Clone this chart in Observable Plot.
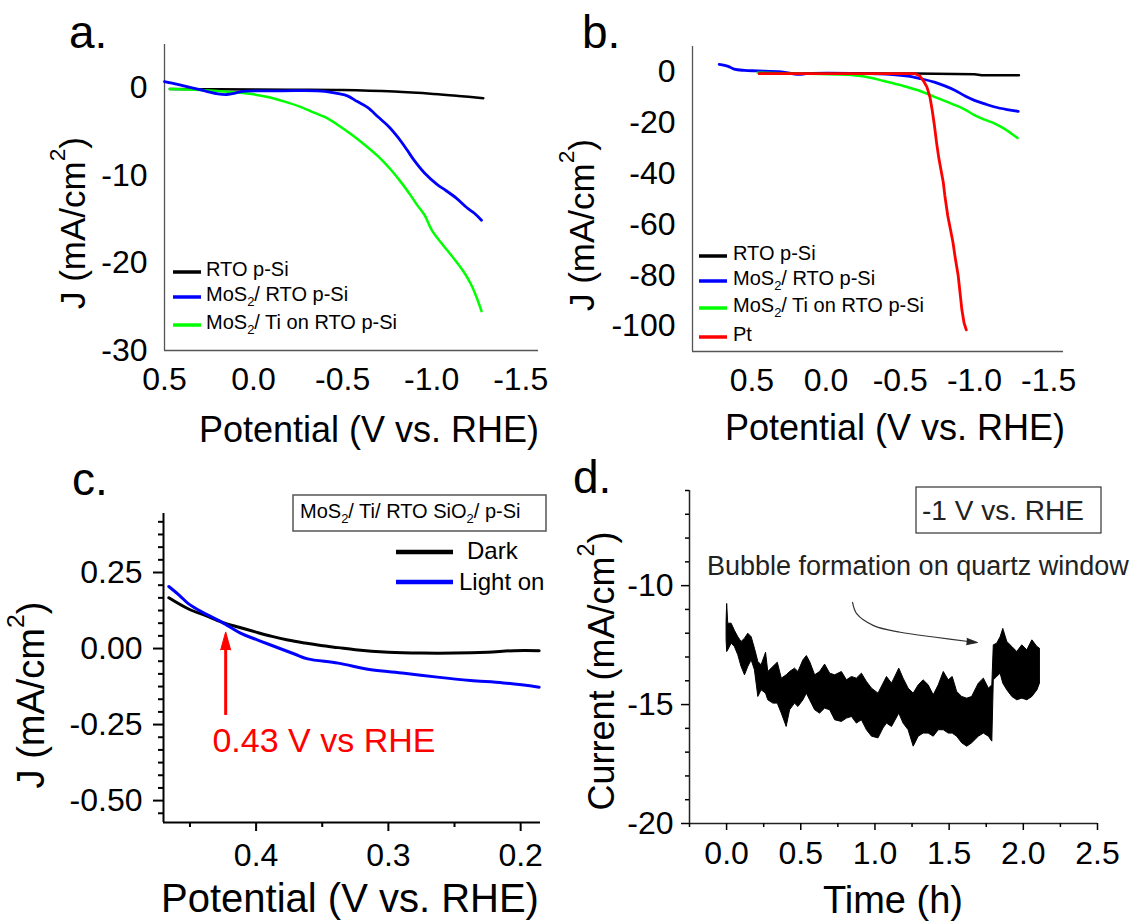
<!DOCTYPE html>
<html><head><meta charset="utf-8">
<script src="https://cdn.jsdelivr.net/npm/d3@7"></script>
<script src="https://cdn.jsdelivr.net/npm/@observablehq/plot@0.6"></script>
<style>
html,body{margin:0;padding:0;background:#fff;}
#fig{position:relative;width:1133px;height:921px;overflow:hidden;background:#fff;}
</style></head><body><div id="fig"></div>
<script>
// ---------------- DATA ----------------
// Panel a: [potential V vs RHE, J mA/cm2]
const aNames = ["RTO p-Si", "MoS_2/ RTO p-Si", "MoS_2/ Ti on RTO p-Si"];
const aColors = ["#000000", "#0000FF", "#00FF00"];
const aRTO = [[0.47,-0.1],[0.2,-0.13],[-0.2,-0.17],[-0.5,-0.2],[-0.79,-0.38],[-1.01,-0.65],[-1.15,-0.88],[-1.29,-1.14]];
const aMoS2 = [[0.5,0.76],[0.44,0.5],[0.38,0.2],[0.32,-0.07],[0.26,-0.38],[0.20,-0.65],[0.15,-0.72],[0.11,-0.6],[0.07,-0.38],[-0.1,-0.3],[-0.26,-0.27],[-0.4,-0.35],[-0.47,-0.6],[-0.53,-0.9],[-0.58,-1.5],[-0.64,-2.2],[-0.70,-3.3],[-0.76,-4.4],[-0.81,-5.6],[-0.86,-7.0],[-0.90,-8.2],[-0.96,-9.7],[-1.03,-11.0],[-1.08,-11.7],[-1.14,-12.6],[-1.20,-13.7],[-1.24,-14.3],[-1.28,-15.1]];
const aTi = [[0.47,-0.1],[0.3,-0.2],[0.11,-0.46],[0.0,-0.7],[-0.08,-1.0],[-0.17,-1.5],[-0.26,-2.1],[-0.34,-2.8],[-0.42,-3.5],[-0.48,-4.3],[-0.55,-5.3],[-0.62,-6.4],[-0.70,-7.8],[-0.77,-9.3],[-0.83,-10.8],[-0.88,-12.2],[-0.92,-13.4],[-0.96,-14.5],[-1.0,-16.2],[-1.05,-17.6],[-1.11,-19.1],[-1.18,-21.0],[-1.22,-22.4],[-1.25,-23.8],[-1.28,-25.5]];
const aTicksX = [0.5, 0.0, -0.5, -1.0, -1.5];
const aTicksY = [0, -10, -20, -30];

// Panel b
const bNames = ["RTO p-Si", "MoS_2/ RTO p-Si", "MoS_2/ Ti on RTO p-Si", "Pt"];
const bColors = ["#000000", "#0000FF", "#00FF00", "#FF0000"];
const bRTO = [[0.45,-0.7],[0.0,-0.7],[-0.6,-0.6],[-1.0,-0.9],[-1.05,-1.3],[-1.3,-1.3]];
const bMoS2 = [[0.72,3.0],[0.66,2.2],[0.62,1.1],[0.55,0.6],[0.46,0.4],[0.3,0.0],[0.19,-1.0],[0.12,-0.6],[-0.22,-0.6],[-0.45,-1.1],[-0.55,-1.7],[-0.63,-2.6],[-0.73,-4.0],[-0.80,-5.5],[-0.867,-7.2],[-0.94,-9.6],[-1.0,-11.2],[-1.07,-12.6],[-1.137,-13.8],[-1.22,-14.8],[-1.295,-15.5]];
const bTi = [[0.46,-0.3],[0.2,-0.6],[-0.1,-1.0],[-0.22,-1.5],[-0.3,-2.3],[-0.39,-3.6],[-0.5,-5.2],[-0.62,-7.2],[-0.73,-9.8],[-0.845,-12.5],[-0.93,-14.6],[-1.0,-17.0],[-1.07,-18.8],[-1.14,-20.4],[-1.2,-22.3],[-1.25,-24.3],[-1.29,-26.0]];
const bPt = [[0.45,-0.7],[-0.6,-0.7],[-0.63,-1.5],[-0.654,-3.3],[-0.68,-6],[-0.70,-9.9],[-0.715,-15],[-0.73,-21],[-0.745,-28],[-0.76,-34],[-0.79,-43.5],[-0.80,-48.5],[-0.82,-56.6],[-0.835,-61],[-0.855,-67],[-0.87,-73],[-0.89,-80],[-0.905,-88],[-0.915,-93.5],[-0.93,-98.8],[-0.945,-101.5]];
const bTicksX = [0.5, 0.0, -0.5, -1.0, -1.5];
const bTicksY = [0, -20, -40, -60, -80, -100];

// Panel c
const cNames = ["Dark", "Light on"];
const cColors = ["#000000", "#0000FF"];
const cDark = [[0.466,0.167],[0.451,0.13],[0.438,0.108],[0.426,0.087],[0.413,0.07],[0.40,0.054],[0.388,0.04],[0.376,0.028],[0.363,0.018],[0.351,0.01],[0.338,0.003],[0.325,-0.004],[0.30,-0.012],[0.275,-0.015],[0.25,-0.015],[0.225,-0.012],[0.205,-0.007],[0.186,-0.007]];
const cLight = [[0.466,0.204],[0.458,0.175],[0.451,0.147],[0.44,0.118],[0.426,0.087],[0.411,0.049],[0.40,0.03],[0.388,0.01],[0.371,-0.018],[0.361,-0.034],[0.338,-0.048],[0.313,-0.07],[0.288,-0.081],[0.263,-0.094],[0.238,-0.105],[0.213,-0.113],[0.186,-0.127]];
const cTicksX = [0.4, 0.3, 0.2];
const cMinorX = [0.45, 0.35, 0.25];
const cTicksY = [0.25, 0.0, -0.25, -0.5];
const cArrow = [{x: 0.423, from: -0.22, base: 0.025}];
const cNote = [{x: 0.433, y: -0.341, text: "0.43 V vs RHE"}];

// Panel d: chronoamperometry trace envelope (time h; upper and lower current mA/cm2)
const dTime = [0,0.004,0.011,0.034,0.056,0.079,0.101,0.124,0.146,0.169,0.191,0.214,0.236,0.266,0.281,0.315,0.345,0.372,0.405,0.428,0.461,0.484,0.518,0.541,0.563,0.597,0.63,0.664,0.698,0.732,0.777,0.811,0.845,0.878,0.912,0.946,0.98,1.024,1.058,1.081,1.115,1.164,1.193,1.227,1.261,1.295,1.328,1.362,1.396,1.43,1.464,1.497,1.524,1.554,1.588,1.622,1.655,1.7,1.734,1.768,1.791,1.801,1.824,1.847,1.865,1.892,1.926,1.959,1.993,2.027,2.061,2.095,2.112];
const dHi = [-11.5,-10.77,-11.6,-11.6,-11.9,-12.17,-12.37,-12.23,-12.02,-12.17,-12.65,-13.21,-13.35,-12.82,-13.63,-13.42,-13.24,-13.91,-13.77,-13.63,-13.49,-13.63,-13.14,-12.96,-13.21,-13.77,-13.63,-13.32,-13.7,-13.77,-13.63,-13.98,-13.84,-13.91,-13.7,-14.05,-14.33,-14.54,-14.12,-13.84,-14.12,-13.49,-13.91,-14.33,-14.54,-14.19,-13.98,-14.19,-14.61,-14.19,-13.63,-13.98,-13.84,-14.47,-14.68,-14.75,-14.68,-14.12,-13.91,-14.33,-14.19,-12.51,-12.44,-12.17,-11.82,-12.37,-12.58,-12.79,-12.51,-12.72,-12.3,-12.58,-12.65];
const dLo = [-12.3,-12.79,-12.72,-12.44,-12.58,-12.93,-13.42,-13.77,-13.42,-13.14,-13.56,-14.68,-14.4,-14.54,-14.82,-14.96,-14.96,-15.38,-15.94,-15.24,-14.96,-15.1,-14.82,-14.54,-14.82,-15.24,-15.38,-15.17,-15.24,-15.66,-15.73,-15.59,-15.52,-15.8,-15.66,-16.08,-16.35,-16.42,-16.0,-15.8,-15.94,-15.38,-15.8,-16.08,-16.77,-16.35,-16.22,-16.22,-16.35,-16.08,-16.08,-16.22,-16.22,-16.35,-16.63,-16.77,-16.63,-16.35,-16.22,-16.35,-16.56,-13.98,-13.84,-13.7,-14.12,-14.4,-14.68,-14.82,-14.75,-14.82,-14.68,-14.4,-14.12];
const dTicksX = [0, 0.5, 1.0, 1.5, 2.0, 2.5];
const dMinorX = [-0.25, 0.25, 0.75, 1.25, 1.75, 2.25];
const dTicksY = [-20, -15, -10];
const dMinorY = [-19,-18,-17,-16,-14,-13,-12,-11,-9,-8,-7,-6];
// annotation arrow path (time h, current) and its head
const dArrowT = [0.849, 0.878, 0.991, 1.171, 1.396, 1.655];
const dArrowI = [-10.70, -11.19, -11.68, -11.96, -12.16, -12.37];
const dArrowHead = [{t: 1.655, i: -12.37}];

// ---------------- HELPERS ----------------
const FONT = "'Liberation Sans', Arial, Helvetica, sans-serif";
const fig = document.getElementById("fig");
function place(svg, left, top) {
  svg.style.position = "absolute";
  svg.style.left = left + "px";
  svg.style.top = top + "px";
  svg.style.overflow = "visible";
  svg.style.background = "transparent";
  fig.appendChild(svg);
  return d3.select(svg);
}
function addText(sel, o) {
  const t = sel.append("text").attr("x", o.x).attr("y", o.y)
    .attr("font-size", o.size).attr("fill", o.fill || "#000")
    .attr("font-family", FONT)
    .attr("text-anchor", o.anchor || "start");
  if (o.rotate) t.attr("transform", `rotate(${o.rotate},${o.x},${o.y})`);
  if (o.central) t.attr("dominant-baseline", "central");
  let off = 0;
  for (const p of o.text.split(/([_^]\d)/)) {
    if (!p) continue;
    const script = p[0] === "_" || p[0] === "^";
    const target = script ? (p[0] === "_" ? 0.25 : -0.42) * o.size : 0;
    const ts = t.append("tspan").attr("dy", target - off);
    if (script) ts.attr("font-size", o.size * 0.65).text(p.slice(1));
    else ts.text(p);
    off = target;
  }
  return t;
}
function addLine(sel, x1, y1, x2, y2, color, w) {
  sel.append("line").attr("x1", x1).attr("y1", y1).attr("x2", x2).attr("y2", y2)
    .attr("stroke", color).attr("stroke-width", w);
}
const baseStyle = {fontFamily: FONT, fontSize: "32px", color: "#000", background: "transparent"};
const fx = d => d[0], fy = d => d[1];
const f1 = d => d.toFixed(1), f2 = d => d.toFixed(2), fi = d => String(d);

// ---------------- PANEL A ----------------
{
  const L = 0, T = 0;
  const svg = Plot.plot({
    width: 566, height: 460, marginLeft: 164, marginRight: 28, marginTop: 44, marginBottom: 110,
    x: {domain: [0.5, -1.6], label: null},
    y: {domain: [-30, 5], label: null},
    style: baseStyle,
    marks: [
      Plot.ruleX([0.5], {stroke: "#555", strokeWidth: 1.3}),
      Plot.ruleY([-30], {stroke: "#555", strokeWidth: 1.3}),
      Plot.axisX(aTicksX, {tickSize: 0, tickPadding: 17, tickFormat: f1, label: null}),
      Plot.axisY(aTicksY, {tickSize: 0, tickPadding: 17, tickFormat: fi, label: null}),
      Plot.line(aRTO, {x: fx, y: fy, stroke: aColors[0], strokeWidth: 2.5, curve: "catmull-rom"}),
      Plot.line(aTi, {x: fx, y: fy, stroke: aColors[2], strokeWidth: 2.5, curve: "catmull-rom"}),
      Plot.line(aMoS2, {x: fx, y: fy, stroke: aColors[1], strokeWidth: 2.8, curve: "catmull-rom"})
    ]
  });
  const s = place(svg, L, T);
  addText(s, {x: 69 - L, y: 48 - T, text: "a.", size: 46});
  addText(s, {x: 72 - L, y: 223 - T, text: "J (mA/cm^2)", size: 35, anchor: "middle", rotate: -90, central: true});
  addText(s, {x: 369 - L, y: 442 - T, text: "Potential (V vs. RHE)", size: 36, anchor: "middle"});
  const ly = [272, 297, 325];
  aNames.forEach((n, i) => {
    addLine(s, 173 - L, ly[i] - T, 201 - L, ly[i] - T, aColors[i], 3.5);
    addText(s, {x: 206 - L, y: ly[i] + 4 - T, text: n, size: 20});
  });
}

// ---------------- PANEL B ----------------
{
  const L = 566, T = 0;
  const svg = Plot.plot({
    width: 567, height: 460, marginLeft: 126, marginRight: 70, marginTop: 46, marginBottom: 109,
    x: {domain: [0.9, -1.6], label: null},
    y: {domain: [-110, 10], label: null},
    style: baseStyle,
    marks: [
      Plot.ruleX([0.9], {stroke: "#555", strokeWidth: 1.3}),
      Plot.ruleY([-110], {stroke: "#555", strokeWidth: 1.3}),
      Plot.axisX(bTicksX, {tickSize: 0, tickPadding: 17, tickFormat: f1, label: null}),
      Plot.axisY(bTicksY, {tickSize: 0, tickPadding: 17, tickFormat: fi, label: null}),
      Plot.line(bMoS2, {x: fx, y: fy, stroke: bColors[1], strokeWidth: 2.8, curve: "catmull-rom"}),
      Plot.line(bTi, {x: fx, y: fy, stroke: bColors[2], strokeWidth: 2.5, curve: "catmull-rom"}),
      Plot.line(bRTO, {x: fx, y: fy, stroke: bColors[0], strokeWidth: 2.5}),
      Plot.line(bPt, {x: fx, y: fy, stroke: bColors[3], strokeWidth: 2.8})
    ]
  });
  const s = place(svg, L, T);
  addText(s, {x: 582 - L, y: 48 - T, text: "b.", size: 46});
  addText(s, {x: 581 - L, y: 225 - T, text: "J (mA/cm^2)", size: 35, anchor: "middle", rotate: -90, central: true});
  addText(s, {x: 895 - L, y: 440 - T, text: "Potential (V vs. RHE)", size: 36, anchor: "middle"});
  const ly = [256, 281, 308, 337];
  bNames.forEach((n, i) => {
    addLine(s, 699 - L, ly[i] - T, 727 - L, ly[i] - T, bColors[i], 3.5);
    addText(s, {x: 733 - L, y: ly[i] + 4 - T, text: n, size: 20});
  });
}

// ---------------- PANEL C ----------------
{
  const L = 0, T = 460;
  const svg = Plot.plot({
    width: 566, height: 461, marginLeft: 163, marginRight: 26, marginTop: 53, marginBottom: 99,
    x: {domain: [0.47, 0.185], label: null},
    y: {domain: [-0.572, 0.444], label: null},
    style: baseStyle,
    marks: [
      Plot.ruleX([0.47], {stroke: "#000", strokeWidth: 2}),
      Plot.ruleY([-0.572], {stroke: "#000", strokeWidth: 2}),
      Plot.axisX(cTicksX, {tickSize: 9, tickPadding: 12, tickFormat: f1, strokeWidth: 2, label: null}),
      Plot.axisX(cMinorX, {tickSize: 5, tickFormat: () => "", strokeWidth: 2, label: null}),
      Plot.axisY(cTicksY, {tickSize: 10, tickPadding: 11, tickFormat: f2, strokeWidth: 2, label: null}),
      Plot.axisY(d3.range(-13, 11).map(k => k * 0.25 / 6).filter(v => Math.abs(v * 4 - Math.round(v * 4)) > 1e-6),
        {tickSize: 5, tickFormat: () => "", strokeWidth: 2, label: null}),
      Plot.line(cDark, {x: fx, y: fy, stroke: cColors[0], strokeWidth: 3, curve: "catmull-rom"}),
      Plot.line(cLight, {x: fx, y: fy, stroke: cColors[1], strokeWidth: 3, curve: "catmull-rom"}),
      Plot.ruleX(cArrow, {x: "x", y1: "from", y2: "base", stroke: "#FF0000", strokeWidth: 3}),
      Plot.vector(cArrow, {x: "x", y: "base", length: 18, shape: "spike", r: 5, fill: "#FF0000", stroke: "#FF0000", strokeWidth: 1}),
      Plot.text(cNote, {x: "x", y: "y", text: "text", fill: "#FF0000", fontSize: 34, textAnchor: "start", lineAnchor: "bottom"})
    ]
  });
  const s = place(svg, L, T);
  addText(s, {x: 72 - L, y: 495 - T, text: "c.", size: 46});
  addText(s, {x: 31 - L, y: 695 - T, text: "J (mA/cm^2)", size: 38, anchor: "middle", rotate: -90, central: true});
  addText(s, {x: 350 - L, y: 912 - T, text: "Potential (V vs. RHE)", size: 40, anchor: "middle"});
  s.append("rect").attr("x", 293 - L).attr("y", 495 - T).attr("width", 253).attr("height", 36)
    .attr("fill", "none").attr("stroke", "#555").attr("stroke-width", 1.5);
  addText(s, {x: 300 - L, y: 518 - T, text: "MoS_2/ Ti/ RTO SiO_2/ p-Si", size: 20});
  addLine(s, 396 - L, 552 - T, 453 - L, 552 - T, cColors[0], 4.5);
  addText(s, {x: 467 - L, y: 559 - T, text: cNames[0], size: 24});
  addLine(s, 396 - L, 582 - T, 453 - L, 582 - T, cColors[1], 4.5);
  addText(s, {x: 459 - L, y: 590 - T, text: cNames[1], size: 24});
}

// ---------------- PANEL D ----------------
{
  const L = 566, T = 460;
  const dRows = dTime.map((t, i) => ({t, hi: dHi[i], lo: dLo[i]}));
  const arrowRows = dArrowT.map((t, i) => ({t, i: dArrowI[i]}));
  const svg = Plot.plot({
    width: 567, height: 461, marginLeft: 123, marginRight: 36, marginTop: 30, marginBottom: 98,
    x: {domain: [-0.25, 2.5], label: null},
    y: {domain: [-20, -6], label: null},
    style: baseStyle,
    marks: [
      Plot.ruleX([-0.25], {stroke: "#222", strokeWidth: 1.5}),
      Plot.ruleY([-20], {stroke: "#222", strokeWidth: 1.5}),
      Plot.axisX(dTicksX, {tickSize: 7, tickPadding: 11, tickFormat: f1, strokeWidth: 1.5, label: null}),
      Plot.axisX(dMinorX, {tickSize: 4, tickFormat: () => "", strokeWidth: 1.5, label: null}),
      Plot.axisY(dTicksY, {tickSize: 8, tickPadding: 8, tickFormat: fi, strokeWidth: 1.5, label: null}),
      Plot.axisY(dMinorY, {tickSize: 4, tickFormat: () => "", strokeWidth: 1.5, label: null}),
      Plot.areaY(dRows, {x: "t", y1: "lo", y2: "hi", fill: "#000", stroke: "#000", strokeWidth: 1}),
      Plot.line(arrowRows, {x: "t", y: "i", stroke: "#333", strokeWidth: 1.2, curve: "catmull-rom"}),
      Plot.vector(dArrowHead, {x: "t", y: "i", length: 11, rotate: 95, shape: "spike", r: 3.2, fill: "#222", stroke: "#222", strokeWidth: 0.8})
    ]
  });
  const s = place(svg, L, T);
  addText(s, {x: 573 - L, y: 493 - T, text: "d.", size: 46});
  addText(s, {x: 601 - L, y: 671 - T, text: "Current (mA/cm^2)", size: 36, anchor: "middle", rotate: -90, central: true});
  addText(s, {x: 893 - L, y: 913 - T, text: "Time (h)", size: 38, anchor: "middle"});
  s.append("rect").attr("x", 916 - L).attr("y", 487 - T).attr("width", 185).attr("height", 46)
    .attr("fill", "none").attr("stroke", "#333").attr("stroke-width", 1.2);
  addText(s, {x: 922 - L, y: 520 - T, text: "-1 V vs. RHE", size: 28, fill: "#222"});
  addText(s, {x: 707 - L, y: 575 - T, text: "Bubble formation on quartz window", size: 27, fill: "#222"});
}
</script></body></html>
